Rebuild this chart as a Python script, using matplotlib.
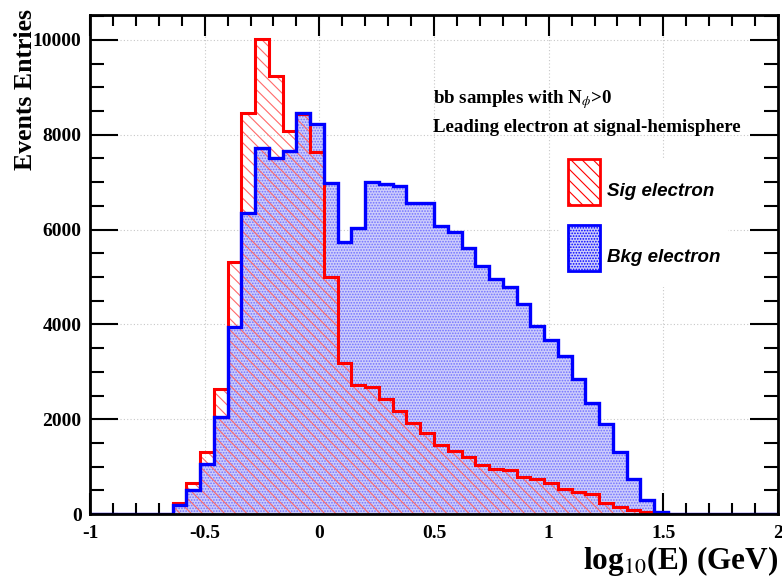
import numpy as np
import matplotlib
matplotlib.use("Agg")
import matplotlib.pyplot as plt
from matplotlib.ticker import MultipleLocator
from matplotlib.patches import Patch, Rectangle
from matplotlib.legend_handler import HandlerPatch

# 50 bins of log10(E) between -1 and 2
edges = np.linspace(-1.0, 2.0, 51)

sig = [0, 0, 0, 0, 0, 0,
       226, 660, 1308, 2630, 5316, 8466, 10021, 9241, 8074, 8440,
       7637, 5006, 3192, 2722, 2672, 2426, 2180, 1926, 1702, 1456,
       1336, 1209, 1034, 943, 928, 787, 732, 660, 527, 457,
       415, 239, 154, 84, 49, 28,
       0, 0, 0, 0, 0, 0, 0, 0]

bkg = [0, 0, 0, 0, 0, 0,
       183, 506, 1055, 2040, 3938, 6357, 7722, 7511, 7665, 8453,
       8228, 6976, 5745, 6040, 7010, 6955, 6920, 6555, 6570, 6083,
       5956, 5605, 5235, 4951, 4782, 4430, 3973, 3671, 3340, 2845,
       2335, 1892, 1315, 732, 295, 42,
       0, 0, 0, 0, 0, 0, 0, 0]

serif = ["Liberation Serif", "DejaVu Serif"]
plt.rcParams["hatch.linewidth"] = 0.8

fig = plt.figure(figsize=(7.82, 5.81), dpi=100)
ax = fig.add_axes([0.1151, 0.1153, 0.8798, 0.8589])

# background histogram: fine blue dot pattern
ax.stairs(bkg, edges, fill=True, facecolor="#cdcdfb", edgecolor="none", zorder=2)
ax.stairs(bkg, edges, fill=True, facecolor="none", edgecolor="#7070ff",
          hatch="......", linewidth=0, zorder=2)
# signal histogram: red diagonal hatch
ax.stairs(sig, edges, fill=True, facecolor="none", edgecolor="#ff6a6a",
          hatch="\\\\\\", linewidth=0, zorder=3)
ax.stairs(sig, edges, color="#ff0000", linewidth=2.2, zorder=4)
ax.stairs(bkg, edges, color="#0000ff", linewidth=2.4, zorder=5)

ax.set_xlim(-1, 2)
ax.set_ylim(0, 10527)

ax.xaxis.set_major_locator(MultipleLocator(0.5))
ax.xaxis.set_minor_locator(MultipleLocator(0.1))
ax.yaxis.set_major_locator(MultipleLocator(2000))
ax.yaxis.set_minor_locator(MultipleLocator(500))
ax.set_xticks([-1, -0.5, 0, 0.5, 1, 1.5, 2])
ax.set_xticklabels(["-1", "-0.5", "0", "0.5", "1", "1.5", "2"])

ax.tick_params(axis="both", which="both", direction="in", top=True, right=True,
               width=1.5, labelsize=14)
ax.tick_params(axis="x", which="major", length=15, pad=8)
ax.tick_params(axis="x", which="minor", length=8)
ax.tick_params(axis="y", which="major", length=20, pad=6)
ax.tick_params(axis="y", which="minor", length=10)
for lab in ax.get_xticklabels() + ax.get_yticklabels():
    lab.set_family(serif)
    lab.set_fontweight("bold")

for sp in ax.spines.values():
    sp.set_linewidth(2)
    sp.set_zorder(6)

ax.grid(True, which="major", linestyle=(0, (1, 2)), color="#c8c8c8", linewidth=0.8, zorder=1)
ax.set_axisbelow(True)

fig.text(0.995, 0.006, r"log$_{10}$(E) (GeV)", ha="right", va="bottom",
         fontsize=22.5, fontweight="bold", family=serif,
         math_fontfamily="stix")
fig.text(0.032, 0.985, "Events Entries", rotation=90, ha="center", va="top",
         fontsize=18.5, fontweight="bold", family=serif)

ax.text(0.4985, 0.830, r"bb samples with N$_{\phi}$>0", transform=ax.transAxes,
        fontsize=13.6, fontweight="bold", family=serif, ha="left", va="center",
        math_fontfamily="stix")
ax.text(0.4985, 0.775, "Leading electron at signal-hemisphere", transform=ax.transAxes,
        fontsize=13.6, fontweight="bold", family=serif, ha="left", va="center")


def raised_box(legend, orig_handle, xdescent, ydescent, width, height, fontsize):
    # legend box sits a little above its label
    return Rectangle((-xdescent, -ydescent + 6.5), width, height)


handles = [
    Patch(facecolor="white", edgecolor="#ff0000", hatch="\\\\\\", linewidth=2,
          label="Sig electron"),
    Patch(facecolor="#cdcdfb", edgecolor="#0000ff", hatch="......", linewidth=2,
          label="Bkg electron"),
]
leg = ax.legend(handles=handles, loc="upper left", bbox_to_anchor=(0.670, 0.728),
                frameon=True, framealpha=1, edgecolor="none", fancybox=False,
                handlelength=1.7, handleheight=3.4, labelspacing=1.07,
                borderpad=0.4, handletextpad=0.4,
                handler_map={Patch: HandlerPatch(patch_func=raised_box)},
                prop={"family": ["Liberation Sans"], "weight": "bold",
                      "style": "italic", "size": 13.5})
leg.set_zorder(7)

fig.savefig("out.png", dpi=100)
